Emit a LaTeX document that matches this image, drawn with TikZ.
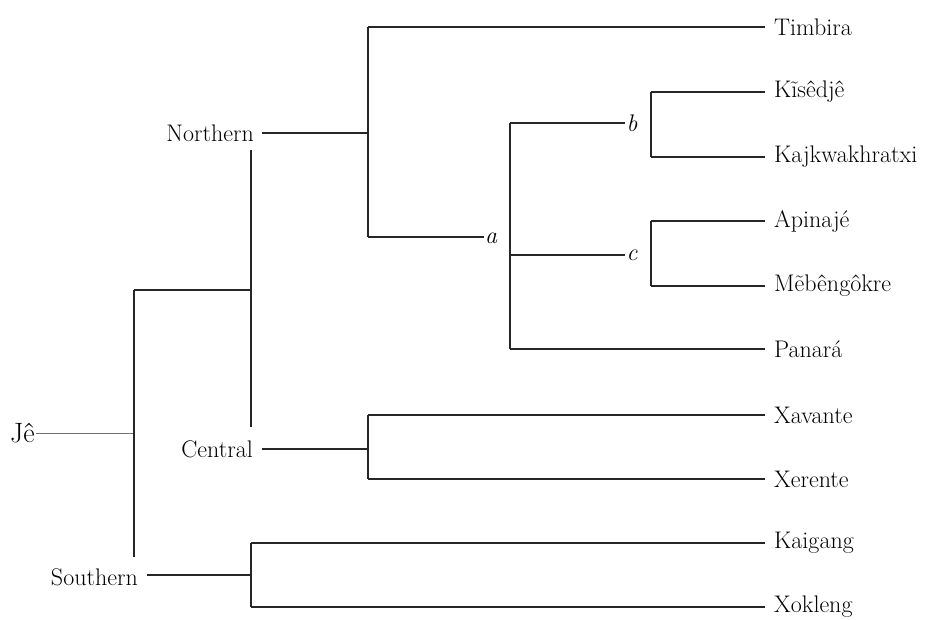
\documentclass[tikz,border=0pt]{standalone}
\usepackage{fontspec}
\setmainfont{Latin Modern Roman}
\begin{document}
\begin{tikzpicture}[x=1pt,y=-1pt,
  lbl/.style={inner sep=1pt,font=\fontsize{24}{28}\selectfont},
  leaf/.style={lbl,anchor=west},
  inner/.style={lbl,font=\fontsize{24}{28}\selectfont\itshape},
  branch/.style={line width=1.1pt,black!85},
  rootline/.style={line width=0.9pt,black!55}]
\useasboundingbox (0,0) rectangle (928,619);
% labels
\node[lbl,font=\fontsize{28}{32}\selectfont,anchor=west] (je) at (9,433) {Jê};
\node[lbl,anchor=east] (north) at (255,133) {Northern};
\node[lbl,anchor=east] (central) at (254,449) {Central};
\node[lbl,anchor=east] (south) at (139,577) {Southern};
\node[inner] (a) at (491,238) {a};
\node[inner] (b) at (632,123) {b};
\node[inner] (c) at (632,255) {c};
\node[leaf] (timbira) at (773,27) {Timbira};
\node[leaf] (kisedje) at (773,92) {Kĩsêdjê};
\node[leaf] (kajk) at (773,157) {Kajkwakhratxi};
\node[leaf] (apinaje) at (773,221) {Apinajé};
\node[leaf] (mebengokre) at (773,286) {Mẽbêngôkre};
\node[leaf] (panara) at (773,349) {Panará};
\node[leaf] (xavante) at (773,415) {Xavante};
\node[leaf] (xerente) at (773,479) {Xerente};
\node[leaf] (kaigang) at (773,543) {Kaigang};
\node[leaf] (xokleng) at (773,607) {Xokleng};
% junction coordinates
\coordinate (jr) at (134,433);
\coordinate (jtop) at (134,290);
\coordinate (jbot) at (134,557);
\coordinate (nctop) at (251,150);
\coordinate (ncbot) at (251,427);
\coordinate (nstart) at (262,133);
\coordinate (nj) at (368,133);
\coordinate (ntop) at (368,27);
\coordinate (nbot) at (368,237);
\coordinate (atop) at (510,123);
\coordinate (abot) at (510,349);
\coordinate (cj) at (510,255);
\coordinate (bj) at (651,123);
\coordinate (cjj) at (651,255);
\coordinate (cstart) at (262,449);
\coordinate (cj2) at (368,449);
\coordinate (sstart) at (147,575);
\coordinate (sj) at (251,575);
\coordinate (lend) at (765,0);
% connectors
\draw[rootline] (je.east) -- (jr);
\draw[branch] (jtop) -- (jbot);
\draw[branch] (jtop) -- (jtop -| nctop);
\draw[branch] (nctop) -- (ncbot);
\draw[branch] (sstart) -- (sj);
\draw[branch] (nstart) -- (nj);
\draw[branch] (ntop) -- (nbot);
\draw[branch] (ntop) -- (lend |- timbira);
\draw[branch] (nbot) -- (a.west |- nbot);
\draw[branch] (atop) -- (abot);
\draw[branch] (atop) -- (b.west);
\draw[branch] (cj) -- (c.west);
\draw[branch] (abot) -- (lend |- panara);
\draw[branch] (bj |- kisedje) -- (bj |- kajk);
\draw[branch] (bj |- kisedje) -- (lend |- kisedje);
\draw[branch] (bj |- kajk) -- (lend |- kajk);
\draw[branch] (cjj |- apinaje) -- (cjj |- mebengokre);
\draw[branch] (cjj |- apinaje) -- (lend |- apinaje);
\draw[branch] (cjj |- mebengokre) -- (lend |- mebengokre);
\draw[branch] (cstart) -- (cj2);
\draw[branch] (cj2 |- xavante) -- (cj2 |- xerente);
\draw[branch] (cj2 |- xavante) -- (lend |- xavante);
\draw[branch] (cj2 |- xerente) -- (lend |- xerente);
\draw[branch] (sj |- kaigang) -- (sj |- xokleng);
\draw[branch] (sj |- kaigang) -- (lend |- kaigang);
\draw[branch] (sj |- xokleng) -- (lend |- xokleng);
\end{tikzpicture}
\end{document}
